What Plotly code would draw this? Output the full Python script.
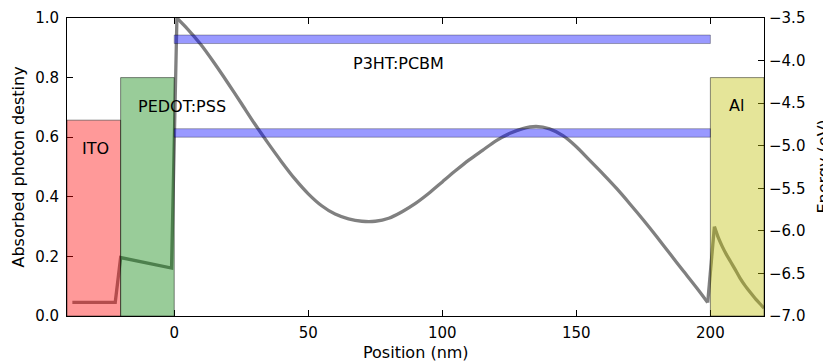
import plotly.graph_objects as go

# Absorbed photon density profile (position nm, normalized value)
position = [-38, -22, -20, -1, 1, 5, 10, 15, 20, 25, 30, 35, 40, 45, 50, 55, 60, 65, 70, 75,
            80, 85, 90, 95, 100, 105, 110, 115, 120, 125, 130, 135, 140, 145, 150, 155,
            160, 165, 170, 175, 180, 185, 190, 195, 199, 201.5, 203, 204.5, 206, 207.5,
            209, 211, 213, 215, 217, 219, 220]
density = [0.046, 0.046, 0.196, 0.161, 1.0, 0.963, 0.91, 0.848, 0.782, 0.714, 0.645, 0.58,
           0.518, 0.46, 0.41, 0.37, 0.342, 0.326, 0.318, 0.318, 0.328, 0.35, 0.378, 0.412,
           0.45, 0.488, 0.524, 0.556, 0.588, 0.612, 0.629, 0.636, 0.628, 0.605, 0.568,
           0.522, 0.476, 0.428, 0.376, 0.322, 0.266, 0.208, 0.15, 0.093, 0.045, 0.30, 0.262,
           0.232, 0.206, 0.183, 0.16, 0.128, 0.101, 0.078, 0.056, 0.036, 0.026]

# Layers: name, x start, x end, top energy (eV), fill colour, label x, label energy
layer_names = ["ITO", "PEDOT:PSS", "Al"]
layer_x0 = [-40, -20, 200]
layer_x1 = [-20, 0, 220]
layer_top = [-4.7, -4.2, -4.2]
layer_colors = ["rgba(255,0,0,0.4)", "rgba(0,128,0,0.4)", "rgba(191,191,0,0.4)"]
label_x = [-29.2, 3, 209.7]
label_e = [-5.03, -4.54, -4.53]

# Active layer energy levels
active_name = "P3HT:PCBM"
active_x = [0, 200]
level_lo = [-3.8, -4.9]
level_hi = [-3.7, -4.8]
active_label_x = 83.7
active_label_e = -4.03

x_title = "Position (nm)"
y_title = "Absorbed photon destiny"
y2_title = "Energy (eV)"

FONT = "DejaVu Sans"
FS = 16
TFS = 15
LINE = dict(color="rgb(128,128,128)", width=3.3)

fig = go.Figure()
# draw the profile in pieces: linear through the jumps, smooth inside each layer
i_peak = position.index(1)
i_end = position.index(199)
i_al = position.index(201.5)
segments = [(0, i_peak + 1, "linear"), (i_peak, i_end + 1, "spline"),
            (i_end, i_al + 1, "linear"), (i_al, len(position), "spline")]
for a, b, shp in segments:
    fig.add_trace(go.Scatter(x=position[a:b], y=density[a:b], mode="lines",
                             line=dict(**LINE, shape=shp, smoothing=0.8),
                             showlegend=False, hoverinfo="skip"))
# invisible trace to activate y2
fig.add_trace(go.Scatter(x=[active_x[0]], y=[-7], yaxis="y2", mode="markers",
                         marker=dict(opacity=0), showlegend=False, hoverinfo="skip"))

shapes = []
for x0, x1, top, col in zip(layer_x0, layer_x1, layer_top, layer_colors):
    shapes.append(dict(type="rect", xref="x", yref="y2", x0=x0, x1=x1, y0=-7, y1=top,
                       fillcolor=col, line=dict(color="rgba(0,0,0,0.45)", width=1),
                       layer="above"))
for lo, hi in zip(level_lo, level_hi):
    shapes.append(dict(type="rect", xref="x", yref="y2", x0=active_x[0], x1=active_x[1],
                       y0=lo, y1=hi, fillcolor="rgba(0,0,255,0.4)",
                       line=dict(color="rgba(0,0,0,0.3)", width=1), layer="above"))

annotations = []
for name, lx, le in zip(layer_names, label_x, label_e):
    annotations.append(dict(x=lx, y=le, xref="x", yref="y2", text=name, showarrow=False,
                            font=dict(family=FONT, size=FS, color="black")))
annotations.append(dict(x=active_label_x, y=active_label_e, xref="x", yref="y2",
                        text=active_name, showarrow=False,
                        font=dict(family=FONT, size=FS, color="black")))
# axis titles
annotations.append(dict(x=0.5, y=-0.122, xref="paper", yref="paper", text=x_title,
                        showarrow=False, xanchor="center", yanchor="middle",
                        font=dict(family=FONT, size=FS, color="black")))
annotations.append(dict(x=-0.0696, y=0.5, xref="paper", yref="paper", text=y_title,
                        showarrow=False, textangle=-90, xanchor="center", yanchor="middle",
                        font=dict(family=FONT, size=FS, color="black")))
annotations.append(dict(x=1.084, y=0.5, xref="paper", yref="paper", text=y2_title,
                        showarrow=False, textangle=-90, xanchor="center", yanchor="middle",
                        font=dict(family=FONT, size=FS, color="black")))

fig.update_layout(
    width=831, height=364,
    margin=dict(l=59, r=75, t=10, b=55.5, autoexpand=False),
    paper_bgcolor="white", plot_bgcolor="white",
    font=dict(family=FONT, size=TFS, color="black"),
    shapes=shapes, annotations=annotations,
    xaxis=dict(range=[-40, 220], tickvals=[0, 50, 100, 150, 200],
               ticks="inside", ticklen=6, tickcolor="black", showline=True,
               linecolor="black", linewidth=1, mirror="ticks", showgrid=False,
               zeroline=False, automargin=False, ticklabelstandoff=3),
    yaxis=dict(range=[0, 1.0], tickvals=[0, 0.2, 0.4, 0.6, 0.8, 1.0], tickformat=".1f",
               ticks="inside", ticklen=6, tickcolor="black", showline=True,
               linecolor="black", linewidth=1, showgrid=False, zeroline=False,
               automargin=False, ticklabelstandoff=4),
    yaxis2=dict(range=[-7, -3.5], tickvals=[-7, -6.5, -6, -5.5, -5, -4.5, -4, -3.5],
                tickformat=".1f", overlaying="y", side="right",
                ticks="inside", ticklen=6, tickcolor="black", showline=True,
                linecolor="black", linewidth=1, showgrid=False, zeroline=False,
                automargin=False, ticklabelstandoff=1),
)

fig.write_html("out.html")
